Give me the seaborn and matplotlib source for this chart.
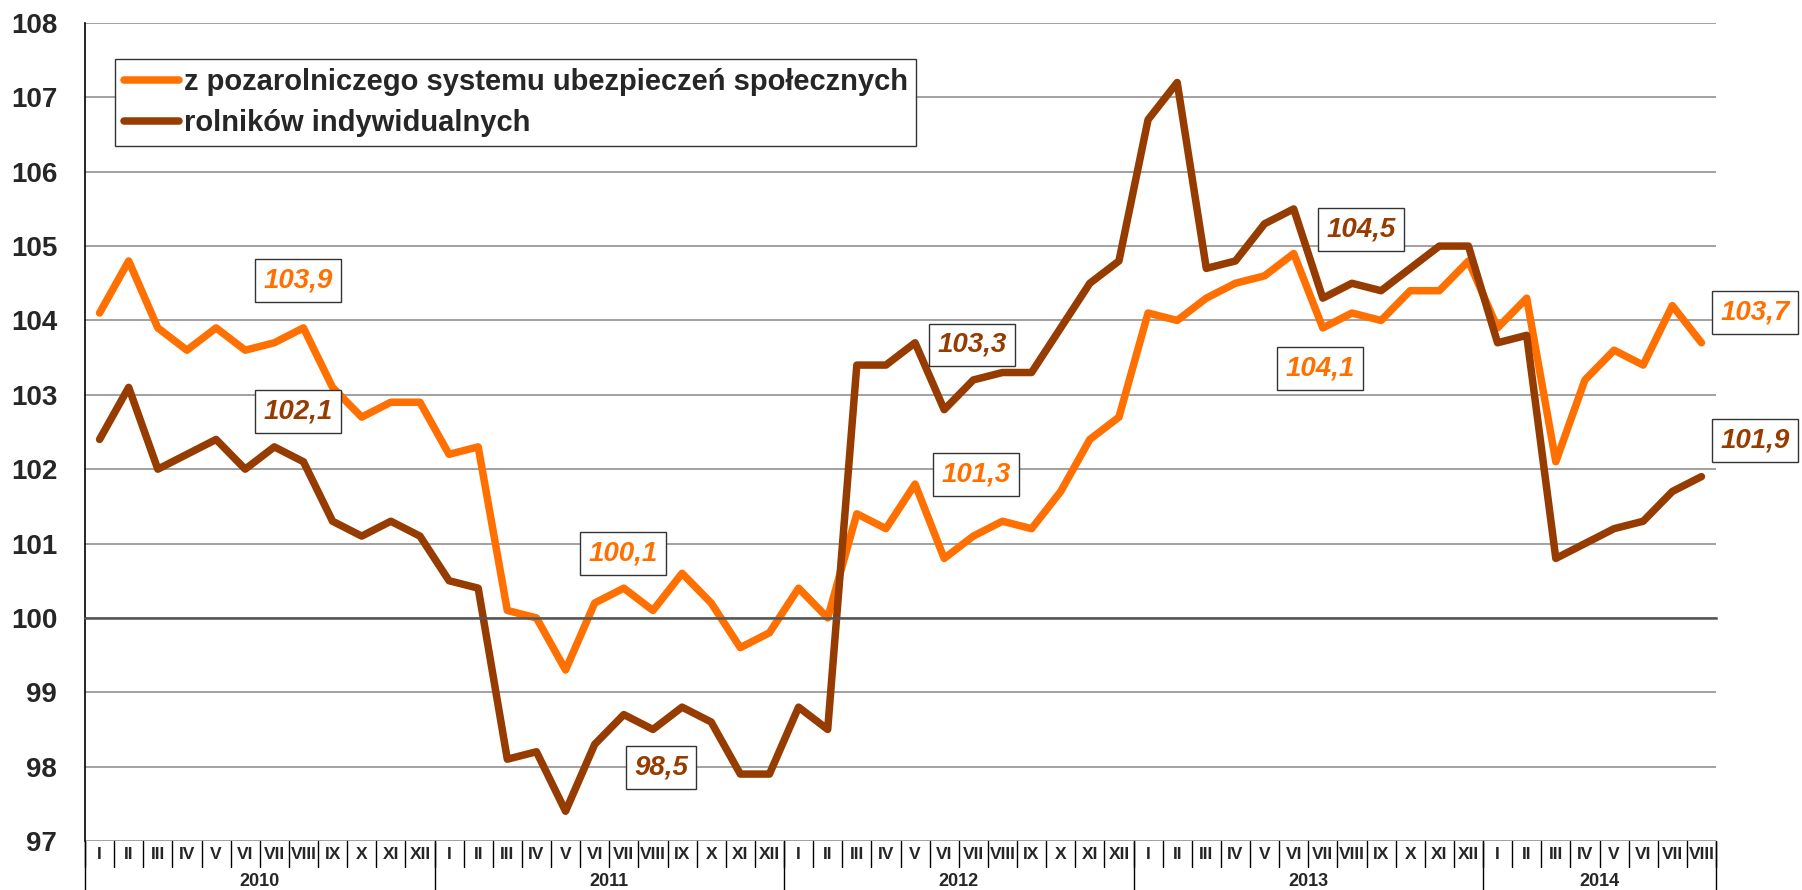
import numpy as np
import pandas as pd
import matplotlib
matplotlib.use('Agg')
import matplotlib.pyplot as plt
import matplotlib.transforms as mtransforms
import seaborn as sns

# Data
months = ['I', 'II', 'III', 'IV', 'V', 'VI', 'VII', 'VIII', 'IX', 'X', 'XI', 'XII']
years = ['2010', '2011', '2012', '2013', '2014']
months_per_year = [12, 12, 12, 12, 8]

pozarolniczy = [104.1, 104.8, 103.9, 103.6, 103.9, 103.6, 103.7, 103.9, 103.1, 102.7, 102.9, 102.9,
                102.2, 102.3, 100.1, 100.0, 99.3, 100.2, 100.4, 100.1, 100.6, 100.2, 99.6, 99.8,
                100.4, 100.0, 101.4, 101.2, 101.8, 100.8, 101.1, 101.3, 101.2, 101.7, 102.4, 102.7,
                104.1, 104.0, 104.3, 104.5, 104.6, 104.9, 103.9, 104.1, 104.0, 104.4, 104.4, 104.8,
                103.9, 104.3, 102.1, 103.2, 103.6, 103.4, 104.2, 103.7]
rolnicy = [102.4, 103.1, 102.0, 102.2, 102.4, 102.0, 102.3, 102.1, 101.3, 101.1, 101.3, 101.1,
           100.5, 100.4, 98.1, 98.2, 97.4, 98.3, 98.7, 98.5, 98.8, 98.6, 97.9, 97.9,
           98.8, 98.5, 103.4, 103.4, 103.7, 102.8, 103.2, 103.3, 103.3, 103.9, 104.5, 104.8,
           106.7, 107.2, 104.7, 104.8, 105.3, 105.5, 104.3, 104.5, 104.4, 104.7, 105.0, 105.0,
           103.7, 103.8, 100.8, 101.0, 101.2, 101.3, 101.7, 101.9]

series_names = ['z pozarolniczego systemu ubezpieczeń społecznych', 'rolników indywidualnych']
colors = ['#FF7000', '#963C00']

# boxed value labels: text, series index
box_texts = ['103,9', '102,1', '100,1', '98,5', '101,3', '103,3', '104,5', '104,1', '103,7', '101,9']
box_series = [0, 1, 0, 1, 0, 1, 1, 0, 0, 1]
box_pos = [(6.81, 104.54), (6.81, 102.78), (17.97, 100.87), (19.28, 97.99), (30.09, 101.93),
           (29.95, 103.67), (43.31, 105.22), (41.90, 103.35), (56.84, 104.11), (56.84, 102.39)]

sns.set_style('white')
plt.rcParams['font.family'] = ['Liberation Sans', 'DejaVu Sans']

month_labels = [m for n in months_per_year for m in months[:n]]
x = np.arange(len(month_labels))

fig = plt.figure(figsize=(18.02, 8.90), dpi=100)
ax = fig.add_axes([85 / 1802, 1 - 841 / 890, 1631 / 1802, 818 / 890])

for vals, name, col in zip([pozarolniczy, rolnicy], series_names, colors):
    sns.lineplot(x=x, y=vals, ax=ax, color=col, linewidth=5.4, label=name,
                 solid_capstyle='round')

ax.set_xlim(-0.5, len(x) - 0.5)
ax.set_ylim(97, 108)
ax.set_yticks(range(97, 109))
ax.set_yticklabels([str(v) for v in range(97, 109)], fontsize=20, fontweight='bold')
ax.yaxis.grid(True, color='#9A9A9A', linewidth=1.3)
ax.set_axisbelow(True)

for s in ['top', 'right']:
    ax.spines[s].set_visible(False)
ax.spines['left'].set_color('black')
ax.spines['left'].set_linewidth(1.2)
ax.spines['bottom'].set_position(('data', 100))
ax.spines['bottom'].set_color('#555555')
ax.spines['bottom'].set_linewidth(1.8)

ax.set_xticks(np.arange(-0.5, len(x), 1.0))
ax.set_xticklabels([])
ax.tick_params(axis='x', direction='out', length=6, width=1.5, color='#555555')
ax.tick_params(axis='y', direction='out', length=8, width=1.2, color='black', pad=12)

# category labels under the plot
trans = mtransforms.blended_transform_factory(ax.transData, ax.transAxes)
for i, lab in enumerate(month_labels):
    ax.text(i, -0.0171, lab, transform=trans, ha='center', va='center',
            fontsize=12.5, fontweight='bold')
for k in range(len(x) + 1):
    ax.plot([k - 0.5, k - 0.5], [0, -0.032], transform=trans, color='black',
            linewidth=1.0, clip_on=False)
start = 0
for yr, n in zip(years, months_per_year):
    ax.plot([start - 0.5, start - 0.5], [0, -0.07], transform=trans, color='black',
            linewidth=1.0, clip_on=False)
    ax.text(start + (n - 1) / 2, -0.0501, yr, transform=trans, ha='center', va='center',
            fontsize=13, fontweight='bold')
    start += n
ax.plot([start - 0.5, start - 0.5], [0, -0.07], transform=trans, color='black',
        linewidth=1.0, clip_on=False)

# boxed labels
for txt, si, (bx, by) in zip(box_texts, box_series, box_pos):
    ax.text(bx, by, txt, ha='center', va='center', fontsize=20, fontweight='bold',
            fontstyle='italic', color=colors[si], clip_on=False,
            bbox=dict(boxstyle='square,pad=0.3', facecolor='white', edgecolor='#333333',
                      linewidth=1.0))

leg = ax.legend(loc='upper left', bbox_to_anchor=(115 / 1802, 1 - 59 / 890),
                bbox_transform=fig.transFigure, prop=dict(size=21, weight='bold'),
                frameon=True, fancybox=False, edgecolor='#333333', framealpha=1,
                handlelength=1.9, handletextpad=0.15, borderpad=0.3, labelspacing=0.45,
                borderaxespad=0)
leg.get_frame().set_linewidth(1.0)

fig.savefig('out.png', dpi=100)
